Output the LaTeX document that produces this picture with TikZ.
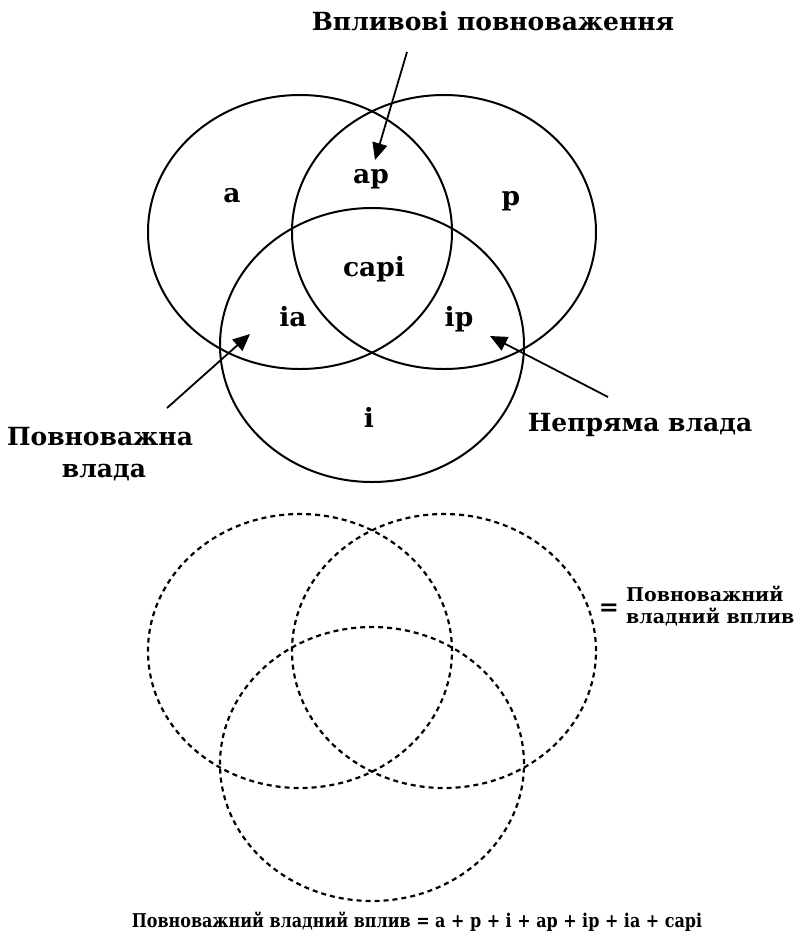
\documentclass[tikz,border=0pt]{standalone}
\usepackage{fontspec}
\setmainfont{DejaVu Serif}
\usetikzlibrary{arrows.meta,shapes.geometric}
\begin{document}
\begin{tikzpicture}[x=1pt,y=-1pt,
  setshape/.style={draw,ellipse,minimum width=304pt,minimum height=274pt,inner sep=0pt,line width=2pt},
  dashset/.style={setshape,line width=2.2pt,dash pattern=on 5pt off 4pt},
  region/.style={font=\fontsize{26.5}{26.5}\selectfont\bfseries,anchor=base,inner sep=0pt},
  label/.style={font=\fontsize{25}{25}\selectfont\bfseries,anchor=base,inner sep=0pt},
  small/.style={font=\fontsize{19}{19}\selectfont\bfseries,anchor=base west,inner sep=0pt},
  pointer/.style={line width=1.8pt,-{Triangle[length=17pt,width=15pt]}}]
\path[use as bounding box] (0,0) rectangle (806,946);
% top diagram
\node[setshape] (A) at (300,232) {};
\node[setshape] (P) at (444,232) {};
\node[setshape] (I) at (372,345) {};
\node[region] (ra) at (232,202) {a};
\node[region] (rap) at (371,183) {ap};
\node[region] (rp) at (511,205) {p};
\node[region] (rcapi) at (374,276) {capi};
\node[region] (ria) at (293,326) {ia};
\node[region] (rip) at (459,326) {ip};
\node[region] (ri) at (369,427) {i};
\node[label] (lt) at (493,30) {Впливові повноваження};
\node[label] (ll1) at (100,445) {Повноважна};
\node[label] (ll2) at (104,477) {влада};
\node[label] (lr) at (640,431) {Непряма влада};
\coordinate (t1) at (407,52); \coordinate (h1) at (375,160);
\coordinate (t2) at (167,408); \coordinate (h2) at (250,334);
\coordinate (t3) at (608,397); \coordinate (h3) at (490,336);
\draw[pointer] (t1) -- (h1);
\draw[pointer] (t2) -- (h2);
\draw[pointer] (t3) -- (h3);
% dashed diagram
\node[dashset] (DA) at (300,651) {};
\node[dashset] (DP) at (444,651) {};
\node[dashset] (DI) at (372,764) {};
\node[font=\fontsize{24}{24}\selectfont\bfseries,inner sep=0pt] (eq) at (609,610) {=};
\node[small] (s1) at (626,601) {Повноважний};
\node[small] (s2) at (626,623) {владний вплив};
\node[font=\fontsize{19}{19}\selectfont\bfseries,anchor=base,inner sep=0pt] (formula) at (417,927) {\scalebox{0.84}[1]{Повноважний владний вплив = a + p + i + ap + ip + ia + capi}};
\end{tikzpicture}
\end{document}
